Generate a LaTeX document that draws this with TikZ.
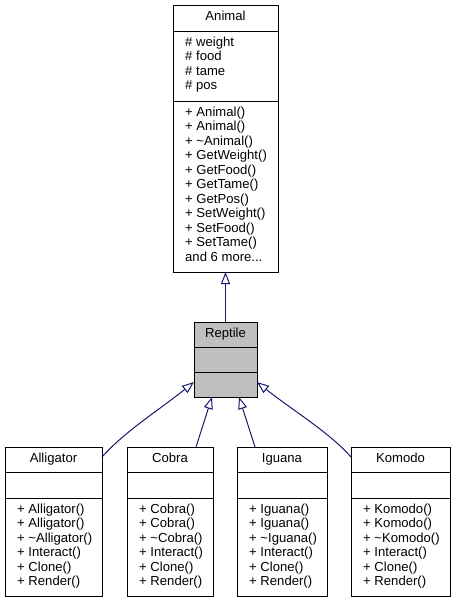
\documentclass[tikz,border=0pt]{standalone}
\usepackage{fontspec}
\setmainfont{Liberation Sans}
\usetikzlibrary{arrows.meta,calc}
\definecolor{edgeblue}{RGB}{25,25,112}
\definecolor{curfill}{RGB}{191,191,191}
\newcommand\classfont{\fontsize{13.1pt}{14.5pt}\selectfont}
\newcommand\moredots{...}
% one text line per member, 14.5pt apart, starting at baseline #3
\newcommand\memberlines[4]{%
  \foreach \txt [count=\i from 0] in {#4}
    {\node[member] (#1-\i) at ({#2},{#3+14.5*\i}) {\txt};}}
\begin{document}
\begin{tikzpicture}[x=1pt,y=-1pt,
  classbox/.style={draw=black,line width=1pt,inner sep=0pt,outer sep=0pt,
                   anchor=north west,fill=white},
  currentbox/.style={classbox,fill=curfill},
  divider/.style={draw=black,line width=1pt},
  classname/.style={anchor=base,inner sep=0pt,font=\classfont},
  member/.style={anchor=base west,inner sep=0pt,font=\classfont},
  inherit/.style={draw=edgeblue,line width=1pt,
                  -{Triangle[open,length=12pt,width=9pt]}}]
\fill[white] (0,0) rectangle (455,603);
\useasboundingbox (0,0) rectangle (455,603);

% ---------- Animal ----------
\node[classbox,minimum width=105pt,minimum height=267pt] (animal) at (173,5) {};
\node[classname] (animal-name) at ($(animal.north)+(0,15.7)$) {Animal};
\draw[divider] ($(animal.north west)+(0,26)$) -- ($(animal.north east)+(0,26)$);
\draw[divider] ($(animal.north west)+(0,96)$) -- ($(animal.north east)+(0,96)$);
\memberlines{animal-attr}{185}{46}{{\# weight},{\# food},{\# tame},{\# pos}}
\memberlines{animal-op}{185}{116}{{+ Animal()},{+ Animal()},{+ \textasciitilde Animal()},
  {+ GetWeight()},{+ GetFood()},{+ GetTame()},{+ GetPos()},{+ SetWeight()},
  {+ SetFood()},{+ SetTame()},{and 6 more\moredots}}

% ---------- Reptile ----------
\node[currentbox,minimum width=63pt,minimum height=75pt] (reptile) at (194,322) {};
\node[classname] (reptile-name) at ($(reptile.north)+(0,15.7)$) {Reptile};
\draw[divider] ($(reptile.north west)+(0,25)$) -- ($(reptile.north east)+(0,25)$);
\draw[divider] ($(reptile.north west)+(0,50)$) -- ($(reptile.north east)+(0,50)$);

% ---------- Alligator ----------
\node[classbox,minimum width=97pt,minimum height=149pt] (alligator) at (5,447) {};
\node[classname] (alligator-name) at ($(alligator.north)+(0,15.2)$) {Alligator};
\draw[divider] ($(alligator.north west)+(0,25)$) -- ($(alligator.north east)+(0,25)$);
\draw[divider] ($(alligator.north west)+(0,51)$) -- ($(alligator.north east)+(0,51)$);
\memberlines{alligator-op}{17}{513}{{+ Alligator()},{+ Alligator()},
  {+ \textasciitilde Alligator()},{+ Interact()},{+ Clone()},{+ Render()}}

% ---------- Cobra ----------
\node[classbox,minimum width=86pt,minimum height=149pt] (cobra) at (127,447) {};
\node[classname] (cobra-name) at ($(cobra.north)+(0,15.2)$) {Cobra};
\draw[divider] ($(cobra.north west)+(0,25)$) -- ($(cobra.north east)+(0,25)$);
\draw[divider] ($(cobra.north west)+(0,51)$) -- ($(cobra.north east)+(0,51)$);
\memberlines{cobra-op}{139}{513}{{+ Cobra()},{+ Cobra()},
  {+ \textasciitilde Cobra()},{+ Interact()},{+ Clone()},{+ Render()}}

% ---------- Iguana ----------
\node[classbox,minimum width=90pt,minimum height=149pt] (iguana) at (237,447) {};
\node[classname] (iguana-name) at ($(iguana.north)+(0,15.2)$) {Iguana};
\draw[divider] ($(iguana.north west)+(0,25)$) -- ($(iguana.north east)+(0,25)$);
\draw[divider] ($(iguana.north west)+(0,51)$) -- ($(iguana.north east)+(0,51)$);
\memberlines{iguana-op}{249}{513}{{+ Iguana()},{+ Iguana()},
  {+ \textasciitilde Iguana()},{+ Interact()},{+ Clone()},{+ Render()}}

% ---------- Komodo ----------
\node[classbox,minimum width=99pt,minimum height=149pt] (komodo) at (351,447) {};
\node[classname] (komodo-name) at ($(komodo.north)+(0,15.2)$) {Komodo};
\draw[divider] ($(komodo.north west)+(0,25)$) -- ($(komodo.north east)+(0,25)$);
\draw[divider] ($(komodo.north west)+(0,51)$) -- ($(komodo.north east)+(0,51)$);
\memberlines{komodo-op}{363}{513}{{+ Komodo()},{+ Komodo()},
  {+ \textasciitilde Komodo()},{+ Interact()},{+ Clone()},{+ Render()}}

% ---------- inheritance ----------
\draw[inherit] (reptile.north) -- (animal.south);
\draw[inherit] ($(alligator.north east)+(0,10)$)
  .. controls +(22,-25) and +(-35,28) .. ($(reptile.south west)+(0,-15)$);
\draw[inherit] ($(cobra.north)+(26,0)$) -- ($(reptile.south)+(-13.5,0)$);
\draw[inherit] ($(iguana.north)+(-27,0)$) -- ($(reptile.south)+(13.5,0)$);
\draw[inherit] ($(komodo.north west)+(0,10)$)
  .. controls +(-22,-25) and +(35,28) .. ($(reptile.south east)+(0,-15)$);
\end{tikzpicture}
\end{document}
